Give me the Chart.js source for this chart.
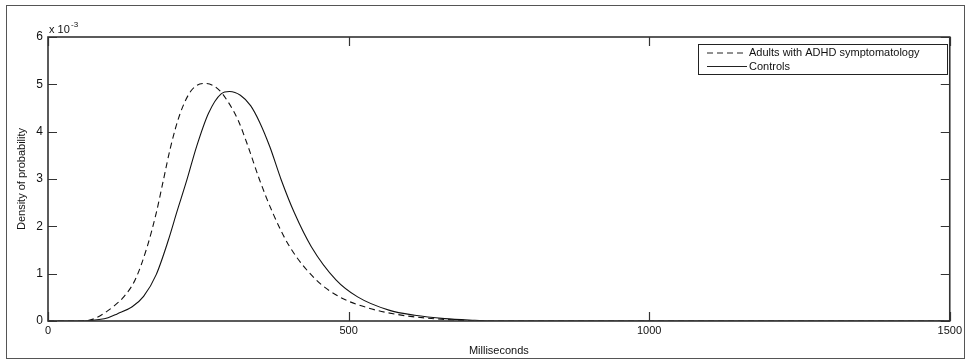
<!DOCTYPE html>
<html>
<head>
<meta charset="utf-8">
<script src="https://cdn.jsdelivr.net/npm/chart.js@4.4.0/dist/chart.umd.min.js"></script>
<style>
  html, body { margin: 0; padding: 0; background: #fff; }
  canvas { display: block; }
</style>
</head>
<body>
<canvas id="grafico" width="965" height="364"></canvas>
<script>
// ==================== DADOS ====================
// tempo em ms e densidade (eixo em x 10^-3)
const msAdhd = [0, 55, 75, 93, 110, 126, 145, 165, 180, 192, 204, 220, 239, 261, 283, 300, 316, 333, 352, 374, 402, 446, 485, 534, 580, 630, 680, 730, 1500];
const densAdhd = [0, 0, 0.04, 0.16, 0.32, 0.51, 0.87, 1.57, 2.28, 2.98, 3.68, 4.39, 4.88, 5.02, 4.9, 4.62, 4.25, 3.68, 2.98, 2.28, 1.57, 0.87, 0.51, 0.27, 0.14, 0.06, 0.02, 0, 0];

const msCtrl = [0, 60, 85, 100, 115, 140, 159, 180, 200, 215, 231, 247, 267, 288, 302, 320, 337, 352, 369, 388, 410, 438, 479, 515, 567, 610, 660, 710, 740, 1500];
const densCtrl = [0, 0, 0.03, 0.07, 0.15, 0.3, 0.52, 0.98, 1.7, 2.33, 2.98, 3.68, 4.39, 4.8, 4.85, 4.77, 4.55, 4.2, 3.68, 2.98, 2.28, 1.57, 0.87, 0.51, 0.23, 0.12, 0.05, 0.015, 0, 0];

const xTicks = [0, 500, 1000, 1500];
const yTicks = [0, 1, 2, 3, 4, 5, 6];
const legendLabels = ["Adults with ADHD symptomatology", "Controls"];

const FONTE = "'Liberation Sans', Arial, sans-serif";

function pares(xs, ys) {
  return xs.map((x, i) => ({ x: x, y: ys[i] / 1000 }));
}

// ==================== PLUGIN: MOLDURA, TICKS, TÍTULOS, LEGENDA ====================
const estiloMatlab = {
  id: "estiloMatlab",
  afterDraw(chart) {
    const ctx = chart.ctx;
    const a = chart.chartArea;
    const sx = chart.scales.x;
    const sy = chart.scales.y;

    ctx.save();

    // moldura externa
    ctx.strokeStyle = "#555";
    ctx.lineWidth = 1;
    ctx.strokeRect(6.5, 5.5, 958, 353);

    // caixa dos eixos
    ctx.strokeStyle = "#333";
    ctx.lineWidth = 1.6;
    ctx.strokeRect(a.left, a.top, a.right - a.left, a.bottom - a.top);

    // ticks para dentro
    ctx.lineWidth = 1.2;
    ctx.beginPath();
    yTicks.forEach((v) => {
      const py = Math.round(sy.getPixelForValue(v / 1000)) + 0.5;
      ctx.moveTo(a.left, py); ctx.lineTo(a.left + 9, py);
      ctx.moveTo(a.right, py); ctx.lineTo(a.right - 9, py);
    });
    xTicks.forEach((v) => {
      const px = Math.round(sx.getPixelForValue(v)) + 0.5;
      ctx.moveTo(px, a.bottom); ctx.lineTo(px, a.bottom - 9);
      ctx.moveTo(px, a.top); ctx.lineTo(px, a.top + 9);
    });
    ctx.stroke();

    // expoente
    ctx.fillStyle = "#111";
    ctx.font = "11px " + FONTE;
    ctx.textAlign = "left";
    ctx.textBaseline = "alphabetic";
    ctx.fillText("x 10", 49, 33);
    ctx.font = "8px " + FONTE;
    ctx.fillText("-3", 71, 27);

    // títulos dos eixos
    ctx.font = "11px " + FONTE;
    ctx.textAlign = "center";
    ctx.textBaseline = "middle";
    ctx.fillText("Milliseconds", (a.left + a.right) / 2, 351);
    ctx.translate(22, (a.top + a.bottom) / 2);
    ctx.rotate(-Math.PI / 2);
    ctx.fillText("Density of probability", 0, 0);
    ctx.setTransform(1, 0, 0, 1, 0, 0);

    // legenda
    const lx = 698, ly = 44, lw = 249, lh = 30;
    ctx.fillStyle = "#fff";
    ctx.fillRect(lx, ly, lw, lh);
    ctx.strokeStyle = "#222";
    ctx.lineWidth = 1;
    ctx.strokeRect(lx + 0.5, ly + 0.5, lw, lh);

    const dashes = [[6, 4], []];
    legendLabels.forEach((txt, i) => {
      const yy = ly + 9 + i * 13.5;
      ctx.beginPath();
      ctx.setLineDash(dashes[i]);
      ctx.moveTo(707, yy); ctx.lineTo(747, yy);
      ctx.stroke();
      ctx.setLineDash([]);
      ctx.fillStyle = "#111";
      ctx.textAlign = "left";
      ctx.textBaseline = "middle";
      ctx.fillText(txt, 749, yy);
    });

    ctx.restore();
  },
};

// ==================== GRÁFICO ====================
new Chart(document.getElementById("grafico"), {
  type: "line",
  data: {
    datasets: [
      {
        label: legendLabels[0],
        data: pares(msAdhd, densAdhd),
        borderColor: "#111",
        borderWidth: 1.1,
        borderDash: [6, 4],
        pointRadius: 0,
        fill: false,
        cubicInterpolationMode: "monotone",
      },
      {
        label: legendLabels[1],
        data: pares(msCtrl, densCtrl),
        borderColor: "#111",
        borderWidth: 1.1,
        pointRadius: 0,
        fill: false,
        cubicInterpolationMode: "monotone",
      },
    ],
  },
  options: {
    responsive: false,
    animation: false,
    layout: { padding: { left: 0, top: 37, right: 13, bottom: 0 } },
    plugins: {
      legend: { display: false },
      tooltip: { enabled: false },
    },
    scales: {
      x: {
        type: "linear",
        min: 0,
        max: 1500,
        grid: { display: false, drawTicks: false },
        border: { display: false },
        afterBuildTicks: (axis) => { axis.ticks = xTicks.map((v) => ({ value: v })); },
        afterFit: (axis) => { axis.height = 43; },
        ticks: {
          color: "#111",
          padding: 3,
          maxRotation: 0,
          font: { family: FONTE, size: 11 },
          callback: (v) => String(v),
        },
      },
      y: {
        type: "linear",
        min: 0,
        max: 0.006,
        grid: { display: false, drawTicks: false },
        border: { display: false },
        afterBuildTicks: (axis) => { axis.ticks = yTicks.map((v) => ({ value: v / 1000 })); },
        afterFit: (axis) => { axis.width = 48; },
        ticks: {
          color: "#111",
          padding: 5,
          font: { family: FONTE, size: 12 },
          callback: (v) => String(Math.round(v * 1000)),
        },
      },
    },
  },
  plugins: [estiloMatlab],
});
</script>
</body>
</html>
